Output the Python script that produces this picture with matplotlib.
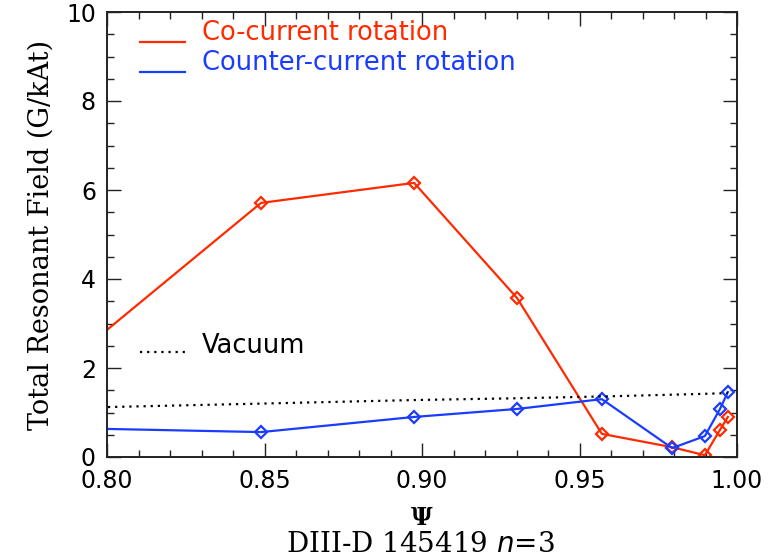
import matplotlib
matplotlib.use("Agg")
import matplotlib.pyplot as plt
from matplotlib.ticker import MultipleLocator, FormatStrFormatter
from matplotlib.lines import Line2D

# Normalised flux coordinate of the rational surfaces
psi = [0.78, 0.8489, 0.8975, 0.9302, 0.9571, 0.9794, 0.9898, 0.9946, 0.9971]

# Total resonant field (G/kAt)
co_rotation = [1.69, 5.71, 6.16, 3.57, 0.52, 0.22, 0.04, 0.61, 0.90]
counter_rotation = [0.66, 0.56, 0.90, 1.08, 1.30, 0.20, 0.47, 1.08, 1.46]
vacuum = [1.09, 1.20, 1.28, 1.32, 1.36, 1.40, 1.42, 1.43, 1.44]

series_labels = ["Co-current rotation", "Counter-current rotation", "Vacuum"]
x_label = "\u03a8"
y_label = "Total Resonant Field (G/kAt)"
footer = "DIII-D 145419 $\\mathit{n}$=3"

RED = "#ff2a00"
BLUE = "#1a3cff"

fig = plt.figure(figsize=(7.78, 5.58), dpi=100)
ax = fig.add_axes([107 / 778, 1 - 457 / 558, 630 / 778, 445 / 558])

mk = dict(marker="D", markersize=6.5, markerfacecolor="none", markeredgewidth=1.6)
ax.plot(psi, co_rotation, color=RED, lw=1.6, markeredgecolor=RED, **mk)
ax.plot(psi, counter_rotation, color=BLUE, lw=1.6, markeredgecolor=BLUE, **mk)
ax.plot(psi, vacuum, color="black", lw=1.6, linestyle=(0, (1, 2.2)))

ax.set_xlim(0.80, 1.00)
ax.set_ylim(0, 10)

ax.xaxis.set_major_locator(MultipleLocator(0.05))
ax.xaxis.set_minor_locator(MultipleLocator(0.01))
ax.yaxis.set_major_locator(MultipleLocator(2))
ax.yaxis.set_minor_locator(MultipleLocator(0.5))
ax.xaxis.set_major_formatter(FormatStrFormatter("%.2f"))
ax.yaxis.set_major_formatter(FormatStrFormatter("%d"))

ax.tick_params(which="both", direction="in", top=True, right=True,
               width=1.0, color="#222222", labelsize=17)
ax.tick_params(axis="x", pad=9)
ax.tick_params(axis="y", pad=8)
ax.tick_params(which="major", length=10)
ax.tick_params(which="minor", length=5)
for s in ax.spines.values():
    s.set_linewidth(1.4)
    s.set_color("#222222")

for lab in ax.get_xticklabels() + ax.get_yticklabels():
    lab.set_family("DejaVu Sans")

ax.set_xlabel(x_label, fontsize=17, family="DejaVu Serif", fontweight="bold", labelpad=9)
ax.set_ylabel(y_label, fontsize=19.5, family="DejaVu Serif", labelpad=8)
fig.text(0.54, 0.0, footer, fontsize=20, family="DejaVu Serif", ha="center", va="bottom")

# Legend drawn as line samples with coloured labels
def sample(line_y, text_y, color, ls, text, tcolor):
    ax.add_line(Line2D([0.052, 0.124], [line_y, line_y], transform=ax.transAxes,
                       color=color, lw=1.6, linestyle=ls))
    ax.text(0.151, text_y, text, transform=ax.transAxes, color=tcolor,
            fontsize=18.5, family="DejaVu Sans", va="center", ha="left")

sample(0.9326, 0.9528, RED, "-", series_labels[0], RED)
sample(0.865, 0.885, BLUE, "-", series_labels[1], BLUE)
sample(0.236, 0.249, "black", (0, (1, 2.2)), series_labels[2], "black")

fig.savefig("out.png", dpi=100)
